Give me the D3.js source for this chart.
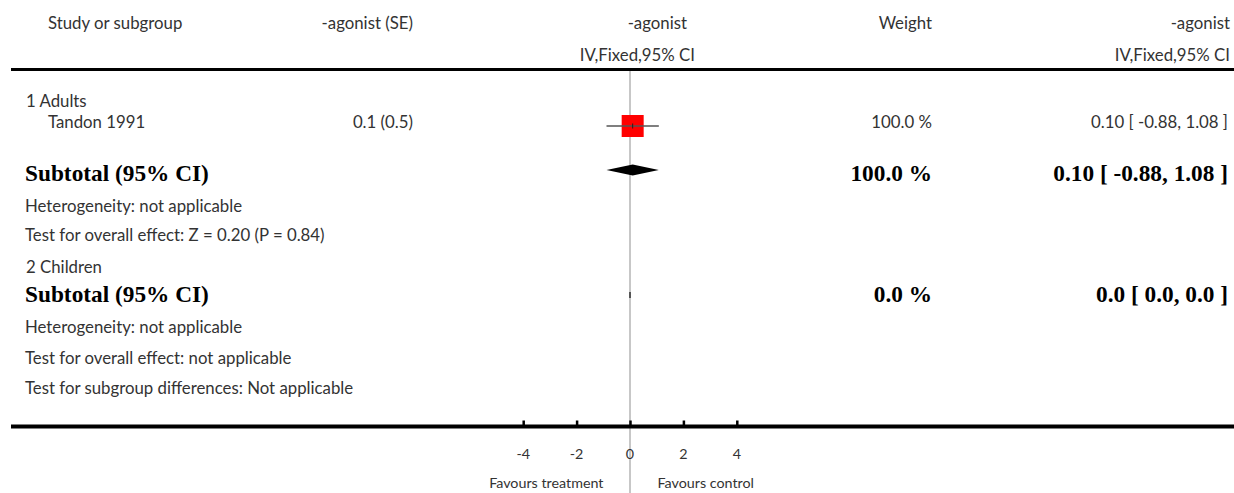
<!DOCTYPE html>
<html>
<head>
<meta charset="utf-8">
<script src="https://cdn.jsdelivr.net/npm/d3@7"></script>
<style>
  html, body { margin: 0; padding: 0; background: #fff; }
  svg { display: block; }
  .sans { font-family: "Lato", "Open Sans", sans-serif; font-weight: 400; fill: #333; }
  .bold { font-family: "Liberation Serif", "DejaVu Serif", serif; font-weight: bold; fill: #000; }
</style>
</head>
<body>
<svg id="chart" width="1234" height="493"></svg>
<script>
// ---------------- DATA ----------------
const headerRow1 = ["Study or subgroup", "-agonist (SE)", "-agonist", "Weight", "-agonist"];
const headerRow2 = ["IV,Fixed,95% CI", "IV,Fixed,95% CI"];

const rowLabels = [
  "1 Adults",
  "Tandon 1991",
  "Subtotal (95% CI)",
  "Heterogeneity: not applicable",
  "Test for overall effect: Z = 0.20 (P = 0.84)",
  "2 Children",
  "Subtotal (95% CI)",
  "Heterogeneity: not applicable",
  "Test for overall effect: not applicable",
  "Test for subgroup differences: Not applicable"
];
const rowTypes = ["group", "study", "subtotal", "note", "note", "group", "subtotal", "note", "note", "note"];

const studyNames = ["Tandon 1991"];
const studyEst = [0.1];
const studySE = [0.5];
const studyWeight = [100.0];
const studyLo = [-0.88];
const studyHi = [1.08];
const studyEstText = ["0.10 [ -0.88, 1.08 ]"];
const studySEText = ["0.1 (0.5)"];

const subtotalEst = [0.10, 0.0];
const subtotalLo = [-0.88, 0.0];
const subtotalHi = [1.08, 0.0];
const subtotalWeight = [100.0, 0.0];
const subtotalEstText = ["0.10 [ -0.88, 1.08 ]", "0.0 [ 0.0, 0.0 ]"];
const subtotalWeightText = ["100.0 %", "0.0 %"];

const tickValues = [-4, -2, 0, 2, 4];
const favoursLeft = "Favours treatment";
const favoursRight = "Favours control";

// ---------------- LAYOUT ----------------
const W = 1234, H = 493;
const rowBaseline = [107, 128, 181, 212, 241, 273, 302, 333, 364, 394];
const studyMarkY = [126];
const subtotalMarkY = [170, 295];
const topRuleY = 69.5;
const axisY = 426.5;
const FS = "16.8px", FB = "23.3px", FT = "14.3px";

const svg = d3.select("#chart");
const x = d3.scaleLinear().domain([-4, 4]).range([523.2, 736.8]);

// reference (zero) line
svg.append("line")
  .attr("x1", x(0)).attr("x2", x(0))
  .attr("y1", topRuleY).attr("y2", H)
  .attr("stroke", "#b4b4b4").attr("stroke-width", 1.5);

// top rule
svg.append("line")
  .attr("x1", 11).attr("x2", W).attr("y1", topRuleY).attr("y2", topRuleY)
  .attr("stroke", "#000").attr("stroke-width", 3);

// headers
const hdr = svg.append("g").attr("class", "sans").style("font-size", FS);
hdr.append("text").attr("x", 48).attr("y", 29).text(headerRow1[0]);
hdr.append("text").attr("x", 413).attr("y", 29).attr("text-anchor", "end").text(headerRow1[1]);
hdr.append("text").attr("x", 687).attr("y", 29).attr("text-anchor", "end").text(headerRow1[2]);
hdr.append("text").attr("x", 932).attr("y", 29).attr("text-anchor", "end").text(headerRow1[3]);
hdr.append("text").attr("x", 1230).attr("y", 29).attr("text-anchor", "end").text(headerRow1[4]);
hdr.append("text").attr("x", 695).attr("y", 61).attr("text-anchor", "end").text(headerRow2[0]);
hdr.append("text").attr("x", 1230).attr("y", 61).attr("text-anchor", "end").text(headerRow2[1]);

// row labels
const body = svg.append("g");
rowLabels.forEach((lab, i) => {
  const t = rowTypes[i];
  const el = body.append("text").attr("y", rowBaseline[i]).text(lab);
  if (t === "subtotal") {
    el.attr("class", "bold").attr("x", 25).style("font-size", FB);
  } else {
    el.attr("class", "sans").style("font-size", FS)
      .attr("x", t === "study" ? 48 : (t === "group" ? 26 : 25));
  }
});

// study rows
const studyRowIdx = rowTypes.map((t, i) => t === "study" ? i : -1).filter(i => i >= 0);
const studies = studyNames.map((n, i) => ({
  name: n, est: studyEst[i], se: studySE[i], w: studyWeight[i], lo: studyLo[i], hi: studyHi[i],
  estText: studyEstText[i], seText: studySEText[i], y: studyMarkY[i], base: rowBaseline[studyRowIdx[i]]
}));
const sg = svg.append("g");
studies.forEach(d => {
  sg.append("text").attr("class", "sans").style("font-size", FS)
    .attr("x", 413).attr("y", d.base).attr("text-anchor", "end").text(d.seText);
  sg.append("text").attr("class", "sans").style("font-size", FS)
    .attr("x", 932).attr("y", d.base).attr("text-anchor", "end").text(d.w.toFixed(1) + " %");
  sg.append("text").attr("class", "sans").style("font-size", FS)
    .attr("x", 1228).attr("y", d.base).attr("text-anchor", "end").text(d.estText);
  const size = 22 * Math.sqrt(d.w / 100);
  sg.append("rect")
    .attr("x", x(d.est) - size / 2).attr("y", d.y - size / 2)
    .attr("width", size).attr("height", size)
    .attr("fill", "#ff0000");
  sg.append("line")
    .attr("x1", x(d.lo)).attr("x2", x(d.hi)).attr("y1", d.y).attr("y2", d.y)
    .attr("stroke", "#555").attr("stroke-width", 1.5);
  sg.append("line")
    .attr("x1", x(d.est)).attr("x2", x(d.est)).attr("y1", d.y - 2.5).attr("y2", d.y + 2.5)
    .attr("stroke", "#222").attr("stroke-width", 1);
});

// subtotal rows
const subRowIdx = rowTypes.map((t, i) => t === "subtotal" ? i : -1).filter(i => i >= 0);
const stg = svg.append("g");
subtotalEst.forEach((e, i) => {
  const base = rowBaseline[subRowIdx[i]];
  const y = subtotalMarkY[i];
  stg.append("text").attr("class", "bold").style("font-size", FB)
    .attr("x", 932).attr("y", base).attr("text-anchor", "end").text(subtotalWeightText[i]);
  stg.append("text").attr("class", "bold").style("font-size", FB)
    .attr("x", 1228).attr("y", base).attr("text-anchor", "end").text(subtotalEstText[i]);
  if (subtotalWeight[i] > 0) {
    const pts = [[x(subtotalLo[i]), y], [x(e), y - 5.5], [x(subtotalHi[i]), y], [x(e), y + 5.5]];
    stg.append("path").attr("d", d3.line()(pts) + "Z").attr("fill", "#000");
  } else {
    stg.append("line")
      .attr("x1", x(e)).attr("x2", x(e)).attr("y1", y - 3).attr("y2", y + 3)
      .attr("stroke", "#555").attr("stroke-width", 2);
  }
});

// bottom axis
svg.append("line")
  .attr("x1", 11).attr("x2", W).attr("y1", axisY).attr("y2", axisY)
  .attr("stroke", "#000").attr("stroke-width", 4);
const axis = d3.axisTop(x).tickValues(tickValues).tickSize(6).tickFormat(d3.format("d"));
const ag = svg.append("g").attr("transform", `translate(0,${axisY})`).call(axis);
ag.select(".domain").remove();
ag.selectAll(".tick line").attr("stroke", "#000").attr("stroke-width", 2.5);
ag.selectAll(".tick text").remove();
const tl = svg.append("g").attr("class", "sans").style("font-size", FT);
tickValues.forEach(v => {
  tl.append("text").attr("x", x(v)).attr("y", 459).attr("text-anchor", "middle")
    .text(v < 0 ? "-" + Math.abs(v) : String(v));
});
tl.append("text").attr("x", x(0) - 26.5).attr("y", 488).attr("text-anchor", "end").text(favoursLeft);
tl.append("text").attr("x", x(0) + 27.5).attr("y", 488).text(favoursRight);
</script>
</body>
</html>
